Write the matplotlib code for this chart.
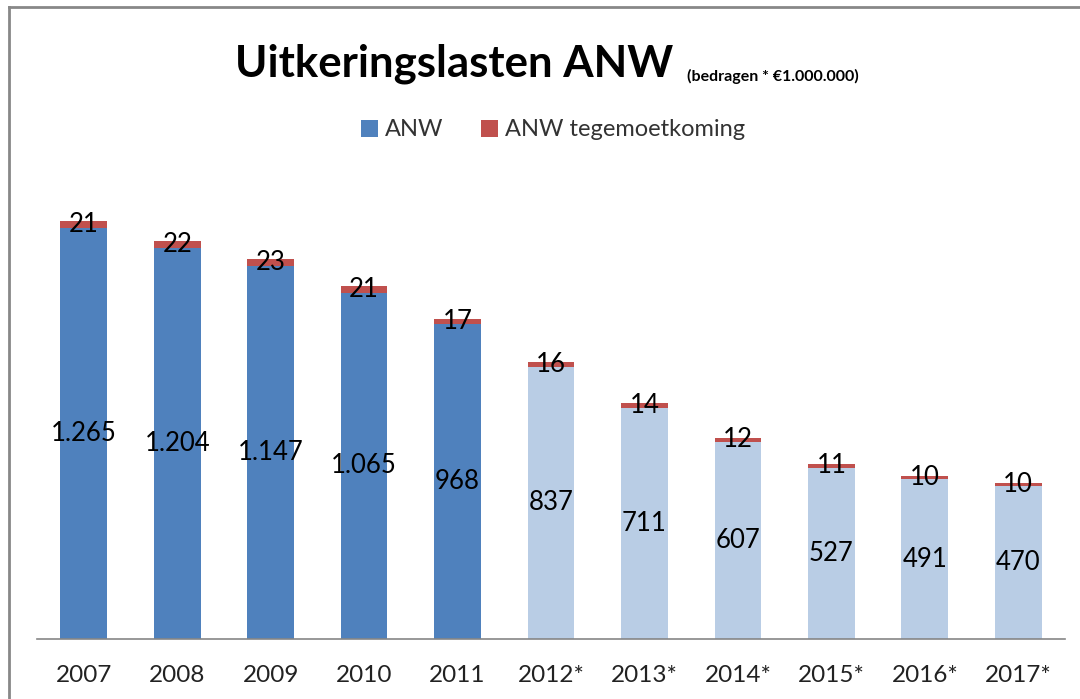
#! /usr/bin/env python3

"""
Uitkeringslasten ANW, gestapelde staafgrafiek
"""

import matplotlib
matplotlib.use("Agg")
import matplotlib.pyplot as plt
from matplotlib.lines import Line2D

years = ["2007", "2008", "2009", "2010", "2011",
         "2012*", "2013*", "2014*", "2015*", "2016*", "2017*"]
anw = [1265, 1204, 1147, 1065, 968, 837, 711, 607, 527, 491, 470]
tegemoetkoming = [21, 22, 23, 21, 17, 16, 14, 12, 11, 10, 10]

BLUE = "#4F81BD"
LIGHT_BLUE = "#B9CDE5"
RED = "#C0504D"


def nl_format(value):
    return f"{value:,}".replace(",", ".")


def main():
    plt.rcParams["font.family"] = ["Lato", "DejaVu Sans"]

    fig = plt.figure(figsize=(10.8, 6.99), dpi=100)
    ax = fig.add_axes([37 / 1080, 1 - 639 / 699, 1028 / 1080, 0.651])

    x = range(len(years))
    colors = [LIGHT_BLUE if y.endswith("*") else BLUE for y in years]
    ax.bar(x, anw, width=0.5, color=colors, label="ANW")
    ax.bar(x, tegemoetkoming, width=0.5, bottom=anw, color=RED,
           label="ANW tegemoetkoming")

    for i, (a, t) in enumerate(zip(anw, tegemoetkoming)):
        ax.text(i, a / 2, nl_format(a), ha="center", va="center",
                fontsize=18.5, color="black")
        ax.text(i, a + t / 2, nl_format(t), ha="center", va="center",
                fontsize=18.5, color="black")

    ax.set_xlim(-0.5, len(years) - 0.5)
    ax.set_ylim(0, 1400)
    ax.set_xticks(list(x))
    ax.set_xticklabels(years, fontsize=17.5, color="#222222")
    ax.tick_params(axis="x", length=0, pad=19)
    ax.set_yticks([])
    for side in ["top", "right", "left"]:
        ax.spines[side].set_visible(False)
    ax.spines["bottom"].set_color("#868686")
    ax.spines["bottom"].set_linewidth(1.2)

    title = fig.text(235 / 1080, 1 - 77 / 699, "Uitkeringslasten ANW",
                     fontsize=31.5, fontweight="bold", ha="left",
                     va="baseline")
    # ondertitel direct achter de titel
    ax.annotate("(bedragen * €1.000.000)", xy=(1, 0), xycoords=title,
                xytext=(14, 3), textcoords="offset pixels",
                fontsize=11.5, fontweight="bold", ha="left", va="baseline",
                annotation_clip=False)

    handles, labels = ax.get_legend_handles_labels()
    fig.legend(handles, labels, loc="center",
               bbox_to_anchor=(553 / 1080, 1 - 130 / 699), ncol=2,
               frameon=False, fontsize=17, handlelength=0.7,
               handleheight=0.7, handletextpad=0.3, columnspacing=1.6,
               labelcolor="#333333")

    # grijze kaderlijn (links en boven)
    fig.add_artist(Line2D([8.5 / 1080, 8.5 / 1080], [0, 1 - 6.5 / 699],
                          color="#888888", linewidth=2))
    fig.add_artist(Line2D([8.5 / 1080, 1], [1 - 6.5 / 699, 1 - 6.5 / 699],
                          color="#888888", linewidth=2))

    fig.savefig("out.png", dpi=100)
    plt.close(fig)


if __name__ == "__main__":
    main()
